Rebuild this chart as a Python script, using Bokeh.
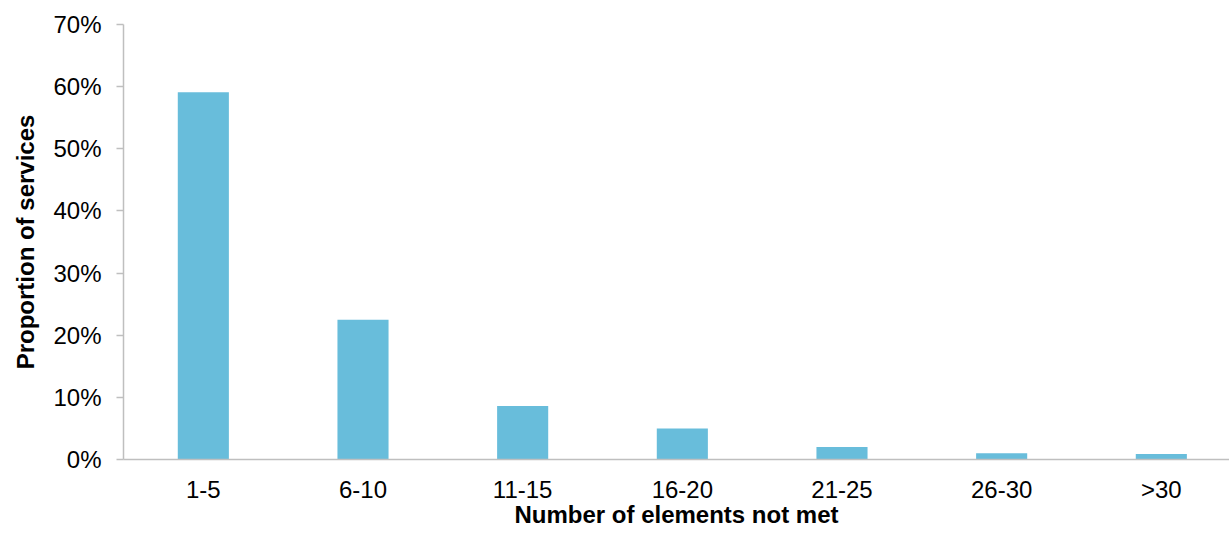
from bokeh.plotting import figure
from bokeh.models import Range1d, FixedTicker, NumeralTickFormatter, ColumnDataSource
from bokeh.embed import file_html
from bokeh.resources import INLINE

categories = ["1-5", "6-10", "11-15", "16-20", "21-25", "26-30", ">30"]
proportions = [0.591, 0.225, 0.086, 0.050, 0.020, 0.010, 0.009]
y_ticks = [0.0, 0.1, 0.2, 0.3, 0.4, 0.5, 0.6, 0.7]

xpos = [i + 0.5 for i in range(len(categories))]
src = ColumnDataSource(dict(x=xpos, top=proportions, cat=categories))

p = figure(width=1229, height=533, output_backend="svg", toolbar_location=None,
           x_range=Range1d(0, 6.927), y_range=Range1d(0, 0.7),
           min_border_left=123, min_border_right=0, min_border_top=24, min_border_bottom=74)
p.vbar(x="x", top="top", width=0.32, bottom=0, source=src,
       fill_color="#68BDDB", line_color=None)

p.outline_line_color = None
p.xgrid.visible = False
p.ygrid.visible = False
p.background_fill_color = "white"
p.border_fill_color = "white"

font = "Liberation Sans"
fs = "24px"
ax = p.xaxis[0]
ax.ticker = FixedTicker(ticks=xpos)
ax.major_label_overrides = {x: c for x, c in zip(xpos, categories)}
ax.major_tick_line_color = None
ax.minor_tick_line_color = None
ax.axis_line_color = "#BFBFBF"
ax.axis_line_width = 1.5
ax.major_label_text_font = font
ax.major_label_text_font_size = fs
ax.major_label_text_color = "#000000"
ax.major_label_standoff = 10
ax.axis_label = "Number of elements not met"
ax.axis_label_text_font = font
ax.axis_label_text_font_size = fs
ax.axis_label_text_font_style = "bold"
ax.axis_label_text_color = "#000000"
ax.axis_label_standoff = -5

ay = p.yaxis[0]
ay.ticker = FixedTicker(ticks=y_ticks)
ay.formatter = NumeralTickFormatter(format="0%")
ay.minor_tick_line_color = None
ay.major_tick_line_color = "#BFBFBF"
ay.major_tick_line_width = 1.5
ay.major_tick_out = 7
ay.major_tick_in = 0
ay.axis_line_color = "#BFBFBF"
ay.axis_line_width = 1.5
ay.major_label_text_font = font
ay.major_label_text_font_size = fs
ay.major_label_text_color = "#000000"
ay.major_label_standoff = 15
ay.axis_label = "Proportion of services"
ay.axis_label_text_font = font
ay.axis_label_text_font_size = fs
ay.axis_label_text_font_style = "bold"
ay.axis_label_text_color = "#000000"
ay.axis_label_standoff = 11

open("out.html", "w").write(file_html(p, INLINE))
